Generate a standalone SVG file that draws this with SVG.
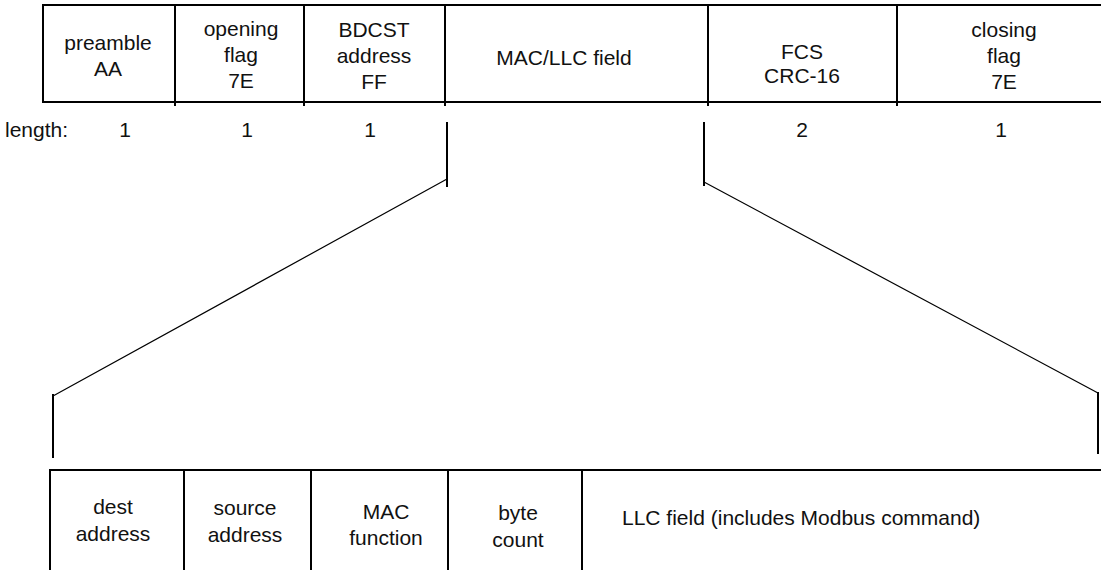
<svg xmlns="http://www.w3.org/2000/svg" width="1101" height="570" viewBox="0 0 1101 570">
<style>
.frame{stroke:#000;stroke-width:2;fill:none;stroke-linecap:butt}
.thin{stroke:#000;stroke-width:1.2;fill:none}
.br{stroke:#000;stroke-width:2;fill:none}
text{font-family:"Liberation Sans",Arial,Helvetica,sans-serif;font-size:21px;fill:#111}
.c{text-anchor:middle}
</style>
<rect width="1101" height="570" fill="#fff"/>
<g id="frame-top">
<path class="frame" d="M43 5H1101M43 102H1101M43 4V103M175 5V106M304 5V106M445 5V106M708 5V106M897 5V106"/>
</g>
<g id="preamble"><text class="c" x="108" y="50">preamble</text><text class="c" x="108" y="76">AA</text></g>
<g id="opening-flag"><text class="c" x="241" y="36">opening</text><text class="c" x="241" y="62">flag</text><text class="c" x="241" y="88">7E</text></g>
<g id="bdcst-address"><text class="c" x="374" y="37">BDCST</text><text class="c" x="374" y="63">address</text><text class="c" x="374" y="89">FF</text></g>
<g id="mac-llc-field"><text class="c" x="564" y="65">MAC/LLC field</text></g>
<g id="fcs"><text class="c" x="802" y="59">FCS</text><text class="c" x="802" y="83">CRC-16</text></g>
<g id="closing-flag"><text class="c" x="1004" y="37">closing</text><text class="c" x="1004" y="63">flag</text><text class="c" x="1004" y="89">7E</text></g>
<g id="lengths">
<text x="5" y="137">length:</text>
<text class="c" x="125" y="137">1</text>
<text class="c" x="247" y="137">1</text>
<text class="c" x="370" y="137">1</text>
<text class="c" x="802" y="137">2</text>
<text class="c" x="1001" y="137">1</text>
</g>
<g id="connectors">
<path class="br" d="M447 122V187M704 122V186M53 394V458M1098 392V454"/>
<path class="thin" d="M447 179L53 396M704 182L1098 393"/>
</g>
<g id="frame-bottom">
<path class="frame" d="M50 470H1101M50 469V570M184 470V570M311 470V570M448 470V570M582 470V570"/>
</g>
<g id="dest-address"><text class="c" x="113" y="514">dest</text><text class="c" x="113" y="541">address</text></g>
<g id="source-address"><text class="c" x="245" y="515">source</text><text class="c" x="245" y="542">address</text></g>
<g id="mac-function"><text class="c" x="386" y="519">MAC</text><text class="c" x="386" y="545">function</text></g>
<g id="byte-count"><text class="c" x="518" y="520">byte</text><text class="c" x="518" y="547">count</text></g>
<g id="llc-field"><text x="622" y="525">LLC field (includes Modbus command)</text></g>
</svg>
